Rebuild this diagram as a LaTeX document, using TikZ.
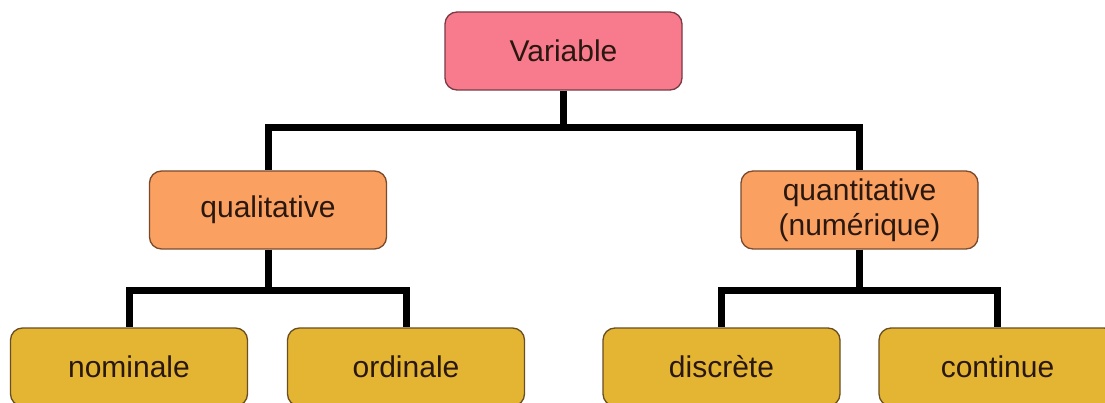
\documentclass[tikz,border=0pt]{standalone}
\usepackage{fontspec}
\setmainfont{Liberation Sans}
\definecolor{varfill}{HTML}{F77B8D}
\definecolor{vardraw}{HTML}{7A3A44}
\definecolor{orfill}{HTML}{FAA060}
\definecolor{ordraw}{HTML}{7A4A2C}
\definecolor{gofill}{HTML}{E4B533}
\definecolor{godraw}{HTML}{6A4E22}
\definecolor{txt}{HTML}{2A1810}
\begin{document}
\begin{tikzpicture}[x=1pt,y=-1pt,
  box/.style={rounded corners=12pt, line width=1.3pt, minimum width=237pt, minimum height=78pt,
    align=center, inner sep=0pt, text=txt, font=\fontsize{30}{35}\selectfont},
  topbox/.style={box, fill=varfill, draw=vardraw},
  midbox/.style={box, fill=orfill, draw=ordraw},
  leafbox/.style={box, fill=gofill, draw=godraw},
  link/.style={line width=7pt, black, line join=miter}]
\useasboundingbox (0,0) rectangle (1105,403);
\clip (0,0) rectangle (1105,403);
\fill[white] (0,0) rectangle (1105,403);
\node[topbox] (V) at (563.5,51) {Variable};
\node[midbox] (QL) at (268,210) {qualitative};
\node[midbox] (QN) at (859.5,210) {quantitative\\(numérique)};
\node[leafbox] (NO) at (129,367) {nominale};
\node[leafbox] (OR) at (406,367) {ordinale};
\node[leafbox] (DI) at (721.5,367) {discrète};
\node[leafbox] (CO) at (997.5,367) {continue};
\coordinate (j1) at (563.5,128);
\coordinate (j2) at (268,290);
\coordinate (j3) at (859.5,290);
\draw[link] (V.south) -- (j1);
\draw[link] (j1) -| (QL.north);
\draw[link] (j1) -| (QN.north);
\draw[link] (QL.south) -- (j2);
\draw[link] (j2) -| (NO.north);
\draw[link] (j2) -| (OR.north);
\draw[link] (QN.south) -- (j3);
\draw[link] (j3) -| (DI.north);
\draw[link] (j3) -| (CO.north);
\end{tikzpicture}
\end{document}
